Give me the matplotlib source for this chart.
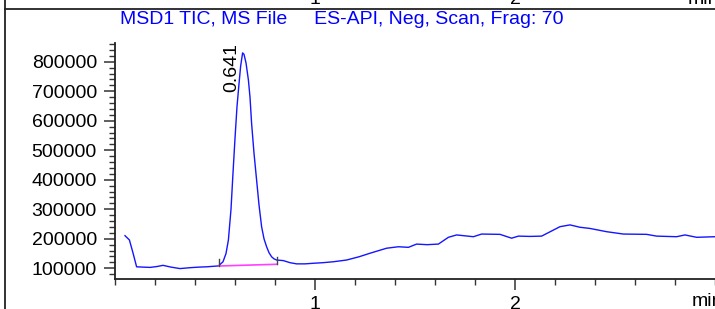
import matplotlib
matplotlib.use("Agg")
import matplotlib.pyplot as plt
from matplotlib.lines import Line2D
from matplotlib.ticker import MultipleLocator, FixedLocator

plt.rcParams["font.family"] = ["Liberation Sans", "DejaVu Sans"]

# TIC trace (time in min, abundance)
time_min = [0.05, 0.072, 0.09, 0.108, 0.14, 0.175, 0.21, 0.24, 0.28, 0.325, 0.375,
            0.42, 0.458, 0.517, 0.54, 0.555, 0.567, 0.58, 0.59, 0.60, 0.61, 0.62,
            0.628, 0.638, 0.645, 0.655, 0.667, 0.675, 0.683, 0.695, 0.708, 0.72,
            0.733, 0.745, 0.758, 0.77, 0.783, 0.795, 0.808, 0.842, 0.875, 0.908,
            0.95, 0.992, 1.04, 1.09, 1.158, 1.22, 1.275, 1.358, 1.417, 1.467,
            1.508, 1.56, 1.617, 1.667, 1.708, 1.75, 1.792, 1.833, 1.925, 1.983,
            2.017, 2.075, 2.133, 2.225, 2.275, 2.325, 2.375, 2.458, 2.542, 2.658,
            2.708, 2.808, 2.85, 2.908, 3.0]
abundance = [210500, 196000, 152000, 105000, 104000, 103000, 106000, 110000, 104000,
             99000, 102000, 104000, 105000, 108000, 122000, 150000, 196000, 300000,
             423000, 540000, 648000, 725000, 784000, 830000, 825000, 796000, 738000,
             680000, 591000, 490000, 399000, 315000, 241000, 200000, 173000, 153000,
             139000, 132000, 128000, 126000, 119000, 115000, 115000, 117000, 119000,
             122000, 128000, 139000, 151000, 168000, 173000, 171000, 182000, 180000,
             182000, 205000, 213000, 210000, 207000, 216000, 215000, 202000, 209000,
             208000, 209000, 241000, 247000, 239000, 235000, 224000, 216000, 215000,
             209000, 207000, 213000, 205000, 207000]

peak_rt = 0.641
baseline_t = [0.52, 0.81]
baseline_y = [107800, 113600]

W, H = 715, 309
FS = 14
fig = plt.figure(figsize=(W / 100, H / 100), dpi=100)
ax = fig.add_axes([115 / W, (H - 279) / H, 600 / W, (279 - 43) / H])

ax.plot(time_min, abundance, color="#1515ff", lw=1.0)
ax.plot(baseline_t, baseline_y, color="#ff40ff", lw=1.2)
for t, y in zip(baseline_t, baseline_y):
    ax.plot([t, t], [y, y + 25000], color="#444444", lw=1.0)

ax.text(0.585, 782000, f"{peak_rt:.3f}", rotation=90, ha="center", va="center",
        fontsize=FS, color="black")

ax.set_xlim(0, 3.0)
ax.set_ylim(63700, 863400)
ax.spines["top"].set_visible(False)
ax.spines["right"].set_visible(False)
for s in ("left", "bottom"):
    ax.spines[s].set_linewidth(1.3)
    ax.spines[s].set_color("#222222")

ax.xaxis.set_major_locator(FixedLocator([1, 2]))
ax.xaxis.set_minor_locator(MultipleLocator(0.2))
ax.yaxis.set_major_locator(MultipleLocator(100000))
ax.yaxis.set_minor_locator(MultipleLocator(20000))
ax.yaxis.set_major_formatter(plt.FuncFormatter(lambda v, p: f"{int(v)}"))
ax.tick_params(which="major", length=8, width=1.1, color="#333333",
               labelsize=FS, pad=5)
ax.tick_params(which="minor", length=4, width=1.0, color="#333333")
ax.tick_params(axis="x", which="major", pad=4)

ax.text(2.885, -0.06, "min", transform=ax.get_xaxis_transform(), ha="left", va="top",
        fontsize=FS)

# frame around the panel and the tail of the panel above
fig.add_artist(Line2D([5 / W, 5 / W], [0, 1], color="#222222", lw=1.3))
fig.add_artist(Line2D([5 / W, 1], [1 - 9 / H, 1 - 9 / H], color="#222222", lw=1.3))
for px, lab, ha in [(315, "1", "center"), (515, "2", "center"), (688, "min", "left")]:
    fig.text(px / W, 1 - 4 / H, lab, ha=ha, va="baseline", fontsize=FS)

fig.text(120 / W, 1 - 20 / H, "MSD1 TIC, MS File     ES-API, Neg, Scan, Frag: 70",
         ha="left", va="center", fontsize=FS, color="#0000ff")

fig.savefig("out.png", dpi=100)
